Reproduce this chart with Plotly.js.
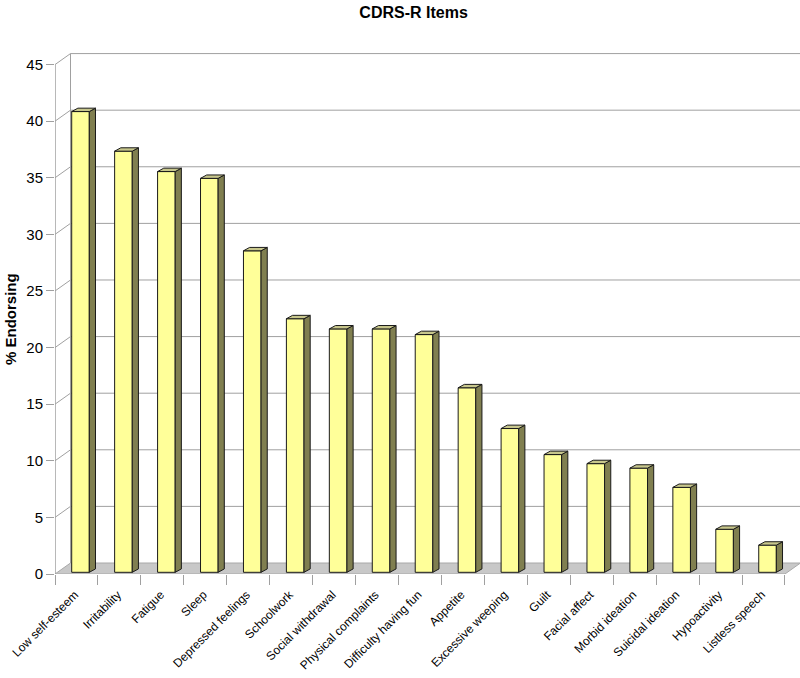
<!DOCTYPE html>
<html>
<head>
<meta charset="utf-8">
<script src="https://cdn.plot.ly/plotly-3.0.1.min.js"></script>
<style>html,body{margin:0;padding:0;background:#fff;}#chart{width:800px;height:678px;}</style>
</head>
<body>
<div id="chart"></div>
<script>
// ---- data ----
const categories = ["Low self-esteem", "Irritability", "Fatigue", "Sleep", "Depressed feelings",
  "Schoolwork", "Social withdrawal", "Physical complaints", "Difficulty having fun", "Appetite",
  "Excessive weeping", "Guilt", "Facial affect", "Morbid ideation", "Suicidal ideation",
  "Hypoactivity", "Listless speech"];
const values = [40.7, 37.2, 35.4, 34.8, 28.4, 22.4, 21.5, 21.5, 21.0, 16.3, 12.7, 10.4, 9.6, 9.2, 7.5, 3.8, 2.4];
const yTicks = [0, 5, 10, 15, 20, 25, 30, 35, 40, 45];
const titleText = "CDRS-R Items";
const yTitleText = "% Endorsing";

// ---- geometry / style (not data) ----
const N = categories.length;
const X0 = -0.5, XEND = N - 0.5;
const XR = 16.85, YR = 46.73;
const WDX = 0.361, WDY = 0.972;      // depth of the back wall
const BOFF = 0.094, BW = 0.41;       // bar front face centre offset & width
const BDX = 0.144, BDY = 0.30;       // bar depth
const BBASE = 0.15;                  // bar front plane lift
const GRID = '#a0a0a0';
const FONT = 'Liberation Sans, Arial, sans-serif';
const yMax = yTicks[yTicks.length - 1];

const idx = categories.map((_, i) => i);

// wall, floor and grid shapes
const shapes = [];
shapes.push({type: 'path', xref: 'x', yref: 'y', layer: 'below',
  path: `M ${X0},0 L ${XEND},0 L ${XEND + WDX},${WDY} L ${X0 + WDX},${WDY} Z`,
  fillcolor: '#c8c8c8', line: {color: '#a8a8a8', width: 1}});
yTicks.forEach(t => {
  if (t > 0) {
    shapes.push({type: 'line', xref: 'x', yref: 'y', layer: 'below', x0: X0, y0: t, x1: X0 + WDX, y1: t + WDY, line: {color: GRID, width: 1}});
    shapes.push({type: 'line', xref: 'x', yref: 'y', layer: 'below', x0: X0 + WDX, y0: t + WDY, x1: XR, y1: t + WDY, line: {color: GRID, width: 1}});
  }
});
shapes.push({type: 'line', xref: 'x', yref: 'y', layer: 'below', x0: X0 + WDX, y0: WDY, x1: X0 + WDX, y1: yMax + WDY, line: {color: GRID, width: 1}});
shapes.push({type: 'line', xref: 'x', yref: 'y', layer: 'below', x0: X0, y0: 0, x1: X0, y1: yMax, line: {color: GRID, width: 1.5}});

// bar side and top faces
const sx = [], sy = [], tx = [], ty = [];
values.forEach((v, i) => {
  const xl = i + BOFF - BW / 2, xr = i + BOFF + BW / 2;
  const b = BBASE, h = BBASE + v;
  sx.push(xr, xr + BDX, xr + BDX, xr, xr, null);
  sy.push(b, b + BDY, h + BDY, h, b, null);
  tx.push(xl, xr, xr + BDX, xl + BDX, xl, null);
  ty.push(h, h, h + BDY, h + BDY, h, null);
});

const traces = [
  {type: 'bar', x: idx.map(i => i + BOFF), y: values, base: BBASE, width: BW,
   marker: {color: '#ffff99', line: {color: '#1a1a1a', width: 1}}, hoverinfo: 'skip', showlegend: false},
  {type: 'scatter', mode: 'lines', x: sx, y: sy, fill: 'toself', fillcolor: '#807f50',
   line: {color: '#1a1a1a', width: 1}, hoverinfo: 'skip', showlegend: false, cliponaxis: false},
  {type: 'scatter', mode: 'lines', x: tx, y: ty, fill: 'toself', fillcolor: '#c8c78c',
   line: {color: '#1a1a1a', width: 1}, hoverinfo: 'skip', showlegend: false, cliponaxis: false},
  {type: 'scatter', mode: 'markers', x: idx, y: values, xaxis: 'x2', marker: {opacity: 0}, hoverinfo: 'skip', showlegend: false}
];

const boundaries = [];
for (let i = 0; i <= N; i++) boundaries.push(i - 0.5);

const layout = {
  width: 800, height: 678,
  margin: {l: 55, r: 0, t: 45, b: 104},
  paper_bgcolor: '#ffffff', plot_bgcolor: 'rgba(0,0,0,0)',
  font: {family: FONT, color: '#000'},
  title: {text: '<b>' + titleText + '</b>', font: {family: FONT, size: 16, color: '#000'},
          x: 0.517, xanchor: 'center', y: 0.982, yanchor: 'middle'},
  xaxis: {range: [X0, XR], tickmode: 'array', tickvals: boundaries, ticktext: boundaries.map(() => ''),
          ticks: 'outside', ticklen: 10, tickcolor: GRID, tickwidth: 1,
          showgrid: false, zeroline: false, showline: false, fixedrange: true},
  xaxis2: {range: [X0, XR], overlaying: 'x', anchor: 'y', side: 'bottom', tickmode: 'array',
           tickvals: idx.map(i => i - 0.04), ticktext: categories, tickangle: -45, ticks: 'outside', ticklen: 8,
           tickcolor: 'rgba(0,0,0,0)', tickfont: {family: FONT, size: 12, color: '#000'},
           showgrid: false, zeroline: false, showline: false, fixedrange: true},
  yaxis: {range: [0, YR], tickmode: 'array', tickvals: yTicks, ticks: 'outside', ticklen: 8,
          tickcolor: GRID, tickwidth: 1, tickfont: {family: FONT, size: 15, color: '#000'},
          showgrid: false, zeroline: false, showline: false, fixedrange: true},
  shapes: shapes,
  annotations: [{text: '<b>' + yTitleText + '</b>', xref: 'paper', yref: 'paper',
    x: -0.0604, y: 0.482, xanchor: 'center', yanchor: 'middle', textangle: -90, showarrow: false,
    font: {family: FONT, size: 15, color: '#000'}}],
  showlegend: false
};

Plotly.newPlot('chart', traces, layout, {displayModeBar: false, staticPlot: true});
</script>
</body>
</html>
